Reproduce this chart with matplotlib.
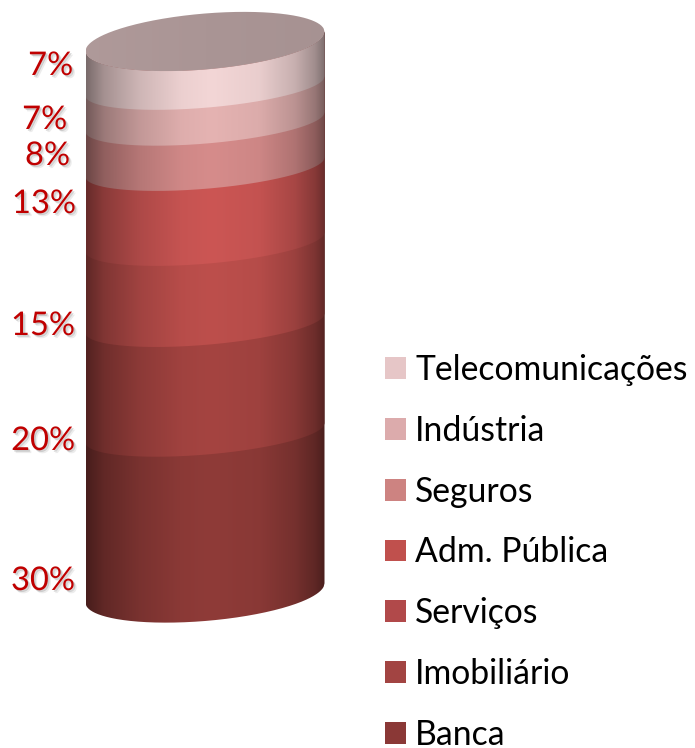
import numpy as np
import matplotlib
matplotlib.use('Agg')
import matplotlib.pyplot as plt
from matplotlib.patches import PathPatch, Patch
from matplotlib.path import Path
import matplotlib.patheffects as pe
from matplotlib.colors import to_rgb

# bottom to top
categories = ['Banca', 'Imobiliário', 'Serviços', 'Adm. Pública', 'Seguros', 'Indústria', 'Telecomunicações']
labels = ['30%', '20%', '15%', '13%', '8%', '7%', '7%']
# band heights as measured on the cylinder (the drawn bands are not exactly the labels)
heights = [29.0, 19.9, 14.7, 13.6, 8.2, 6.5, 8.1]
band_colors = ['#8f3b38', '#a54441', '#bd4f4c', '#cc5654', '#d68c8b', '#e5b3b2', '#f3d6d6']
legend_colors = ['#8a3836', '#a24442', '#b1494a', '#c0504d', '#cd8381', '#dcabac', '#e6c6c7']

# label anchors in pixels (right edge, middle)
label_x = [75, 75, 75, 76, 70, 67, 73]
label_y = [581, 441, 326, 204, 156, 120, 66]

W, H = 695, 748
CX, RX = 205, 119.5      # cylinder centre and half width, px
Y0, SCALE = 593, 5.515   # px of value 0 on the axis, px per unit
RY, RY_INNER, TILT = 28 / SCALE, 21.6 / SCALE, 9.7 / SCALE

plt.rcParams['font.family'] = ['Lato', 'DejaVu Sans']

fig = plt.figure(figsize=(W / 100, H / 100), dpi=100)
ax = fig.add_axes([0, 0, 1, 1])
ax.axis('off')

t = np.linspace(-1, 1, 300)
stops_t = [-1, -0.85, -0.55, -0.2, 0.05, 0.45, 0.75, 0.92, 1]
shade = np.interp(t, stops_t, [0.5, 0.68, 0.85, 0.97, 1.0, 0.96, 0.82, 0.66, 0.52])


def front(v, ry=RY):
    return v + TILT * t - ry * np.sqrt(1 - t**2)


def back(v):
    return v + TILT * t + RY * np.sqrt(1 - t**2)


def fill_gradient(verts, color, sh, z):
    rgb = np.array(to_rgb(color))
    img = np.clip(sh[None, :, None] * rgb[None, None, :], 0, 1)
    im = ax.imshow(img, extent=(-1, 1, verts[:, 1].min(), verts[:, 1].max()),
                   aspect='auto', zorder=z, interpolation='bilinear')
    patch = PathPatch(Path(verts), transform=ax.transData, fc='none', ec='none')
    ax.add_patch(patch)
    im.set_clip_path(patch)


cum = np.concatenate([[0], np.cumsum(heights)])
for i in range(len(heights)):
    # each band runs up to the top so the next one paints over it without a seam
    # the inner boundaries curve less than the two end ellipses
    low = np.column_stack([t, front(cum[i], RY if i == 0 else RY_INNER)])
    up = np.column_stack([t[::-1], front(cum[-1])[::-1]])
    fill_gradient(np.vstack([low, up, low[:1]]), band_colors[i], shade, 2 + i)

# top cap
cap = np.vstack([np.column_stack([t, front(cum[-1])]),
                 np.column_stack([t[::-1], back(cum[-1])[::-1]])])
fill_gradient(cap, '#aa9595', np.interp(t, [-1, 0, 1], [1.03, 1.0, 0.98]), 20)

ax.set_xlim((0 - CX) / RX, (W - CX) / RX)
ax.set_ylim((Y0 - H) / SCALE, Y0 / SCALE)

shadow = [pe.SimplePatchShadow(offset=(2.2, -2.2), shadow_rgbFace='#999999', alpha=0.18),
          pe.SimplePatchShadow(offset=(1.2, -1.2), shadow_rgbFace='#888888', alpha=0.35),
          pe.Normal()]
for txt, lx, ly in zip(labels, label_x, label_y):
    ax.text((lx - CX) / RX, (Y0 - ly) / SCALE, txt, color='#c00000', fontsize=23.5,
            ha='right', va='center', path_effects=shadow, zorder=30)

# legend, same order as the reference (top band first)
handles = [Patch(fc=c, ec='none') for c in legend_colors[::-1]]
fs = 24.3
fs_px = fs * 100 / 72
ax.legend(handles, categories[::-1], loc='upper left', bbox_to_anchor=(385 / W, 1 - 354 / H),
          bbox_transform=fig.transFigure, frameon=False, fontsize=fs, borderpad=0, borderaxespad=0,
          handlelength=21 / fs_px, handleheight=21 / fs_px, handletextpad=9 / fs_px,
          labelspacing=(61.2 - 0.96 * fs_px) / fs_px, labelcolor='black')

fig.savefig('out.png', dpi=100)
